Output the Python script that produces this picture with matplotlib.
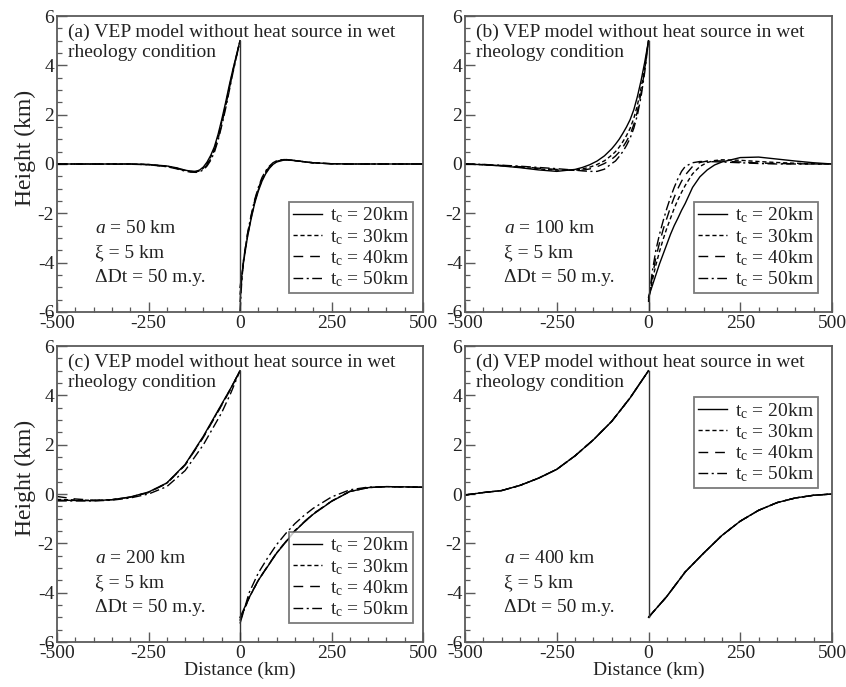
import matplotlib
matplotlib.use("Agg")
import matplotlib.pyplot as plt
from matplotlib.ticker import MultipleLocator

plt.rcParams['font.family'] = ['Liberation Serif', 'DejaVu Serif']
plt.rcParams['mathtext.fontset'] = 'custom'
plt.rcParams['mathtext.rm'] = 'Liberation Serif'
plt.rcParams['mathtext.it'] = 'Liberation Serif:italic'
plt.rcParams['axes.unicode_minus'] = False

# ---- data (distance km, height km) ----
thicknesses = [20, 30, 40, 50]
panel_tags = ['a', 'b', 'c', 'd']
widths = [50, 100, 200, 400]

# (a) a = 50 km
a_xl = [-500, -300, -250, -200, -175, -150, -135, -120, -110, -100, -90, -80, -70, -60, -50, -40, -30, -20, -10, 0]
a_yl = [
    [0, 0, -0.02, -0.08, -0.15, -0.25, -0.29, -0.30, -0.24, -0.12, 0.08, 0.35, 0.70, 1.20, 1.80, 2.45, 3.15, 3.80, 4.40, 5.0],
    [0, 0, -0.02, -0.09, -0.16, -0.26, -0.30, -0.30, -0.27, -0.17, 0.02, 0.28, 0.62, 1.10, 1.70, 2.35, 3.05, 3.75, 4.38, 5.0],
    [0, 0, -0.03, -0.10, -0.17, -0.27, -0.31, -0.31, -0.28, -0.20, -0.03, 0.22, 0.55, 1.02, 1.62, 2.28, 3.00, 3.70, 4.35, 5.0],
    [0, -0.01, -0.03, -0.11, -0.19, -0.29, -0.33, -0.34, -0.31, -0.24, -0.08, 0.15, 0.48, 0.95, 1.55, 2.20, 2.92, 3.65, 4.32, 5.0],
]
a_xr = [0, 5, 10, 20, 30, 40, 50, 60, 70, 80, 90, 100, 120, 140, 170, 200, 250, 300, 500]
a_yr = [
    [-5.0, -4.50, -3.95, -3.00, -2.25, -1.60, -1.10, -0.70, -0.40, -0.18, -0.02, 0.08, 0.16, 0.15, 0.10, 0.05, 0.01, 0, 0],
    [-5.3, -4.55, -3.90, -2.95, -2.20, -1.55, -1.05, -0.65, -0.36, -0.15, 0.00, 0.10, 0.17, 0.15, 0.10, 0.05, 0.01, 0, 0],
    [-5.6, -4.60, -3.85, -2.90, -2.15, -1.50, -1.00, -0.60, -0.32, -0.12, 0.02, 0.11, 0.18, 0.16, 0.10, 0.05, 0.01, 0, 0],
    [-6.0, -4.70, -3.85, -2.85, -2.10, -1.45, -0.95, -0.55, -0.28, -0.09, 0.05, 0.13, 0.19, 0.16, 0.10, 0.04, 0.01, 0, 0],
]

# (b) a = 100 km
b_xl = [-500, -450, -400, -350, -300, -250, -200, -180, -160, -140, -120, -100, -90, -80, -70, -60, -50, -40, -30, -20, -10, 0]
b_yl = [
    [0, -0.03, -0.08, -0.15, -0.24, -0.30, -0.22, -0.14, -0.03, 0.12, 0.33, 0.62, 0.80, 1.00, 1.24, 1.50, 1.80, 2.20, 2.75, 3.40, 4.15, 5.0],
    [0, -0.03, -0.07, -0.13, -0.20, -0.25, -0.25, -0.20, -0.13, -0.02, 0.13, 0.36, 0.50, 0.68, 0.90, 1.15, 1.45, 1.85, 2.40, 3.10, 3.95, 5.0],
    [0, -0.02, -0.06, -0.11, -0.17, -0.22, -0.26, -0.25, -0.20, -0.11, 0.02, 0.20, 0.32, 0.48, 0.68, 0.92, 1.20, 1.60, 2.15, 2.90, 3.85, 5.0],
    [0, -0.02, -0.05, -0.09, -0.14, -0.19, -0.25, -0.28, -0.30, -0.30, -0.21, 0.02, 0.12, 0.30, 0.50, 0.75, 1.05, 1.45, 2.00, 2.75, 3.75, 5.0],
]
b_xr = [0, 10, 20, 30, 40, 50, 60, 70, 80, 90, 100, 120, 140, 160, 180, 200, 250, 300, 350, 400, 450, 500]
b_yr = [
    [-5.40, -4.95, -4.50, -4.05, -3.65, -3.25, -2.85, -2.50, -2.20, -1.88, -1.60, -0.95, -0.52, -0.24, -0.04, 0.08, 0.26, 0.28, 0.20, 0.12, 0.05, 0],
    [-5.50, -4.75, -4.10, -3.55, -3.05, -2.60, -2.20, -1.80, -1.45, -1.15, -0.87, -0.40, -0.10, 0.06, 0.14, 0.17, 0.15, 0.10, 0.06, 0.03, 0.01, 0],
    [-5.55, -4.60, -3.80, -3.20, -2.65, -2.20, -1.75, -1.35, -1.00, -0.70, -0.45, -0.10, 0.06, 0.12, 0.13, 0.12, 0.08, 0.04, 0.02, 0.01, 0, 0],
    [-5.60, -4.40, -3.50, -2.85, -2.30, -1.80, -1.35, -0.95, -0.60, -0.30, -0.10, 0.05, 0.10, 0.10, 0.09, 0.08, 0.05, 0.02, 0.00, 0, 0, 0],
]

# (c) a = 200 km
c_xl = [-500, -450, -400, -350, -300, -250, -200, -150, -100, -50, -25, 0]
c_yl = [
    [-0.25, -0.26, -0.27, -0.23, -0.12, 0.08, 0.45, 1.20, 2.35, 3.65, 4.30, 5.0],
    [-0.22, -0.24, -0.26, -0.23, -0.13, 0.07, 0.44, 1.18, 2.32, 3.62, 4.28, 5.0],
    [-0.10, -0.20, -0.25, -0.23, -0.13, 0.06, 0.43, 1.17, 2.30, 3.60, 4.27, 5.0],
    [-0.28, -0.28, -0.28, -0.25, -0.16, 0.00, 0.30, 0.95, 2.00, 3.30, 4.10, 5.0],
]
c_xr = [0, 25, 50, 75, 100, 125, 150, 175, 200, 250, 300, 350, 400, 450, 500]
c_yr = [
    [-5.00, -4.20, -3.50, -2.95, -2.40, -1.95, -1.50, -1.15, -0.82, -0.30, 0.10, 0.26, 0.30, 0.29, 0.27],
    [-5.10, -4.20, -3.50, -2.94, -2.39, -1.94, -1.49, -1.14, -0.81, -0.29, 0.10, 0.26, 0.30, 0.29, 0.27],
    [-5.15, -4.19, -3.49, -2.93, -2.38, -1.93, -1.48, -1.13, -0.80, -0.29, 0.11, 0.26, 0.30, 0.29, 0.28],
    [-5.25, -4.00, -3.20, -2.60, -2.05, -1.60, -1.20, -0.87, -0.58, -0.12, 0.17, 0.28, 0.30, 0.29, 0.28],
]

# (d) a = 400 km -- all four curves coincide
d_xl = [-500, -450, -400, -350, -300, -250, -200, -150, -100, -50, 0]
d_yl = [[-0.04, 0.06, 0.14, 0.35, 0.64, 1.00, 1.55, 2.20, 2.95, 3.90, 5.0]] * 4
d_xr = [0, 50, 100, 150, 200, 250, 300, 350, 400, 450, 500]
d_yr = [[-5.0, -4.15, -3.16, -2.40, -1.68, -1.10, -0.66, -0.35, -0.16, -0.05, 0.0]] * 4

# vertical offset at the fault (x = 0): top and bottom of the step
fault_top = [5, 5, 5, 5]
fault_bottom = [-6, -6, -6, -5]

panels = [
    (a_xl, a_yl, a_xr, a_yr),
    (b_xl, b_yl, b_xr, b_yr),
    (c_xl, c_yl, c_xr, c_yr),
    (d_xl, d_yl, d_xr, d_yr),
]
# legend anchor (axes fraction, upper/lower right corner)
legend_loc = ['lower right', 'lower right', 'lower right', 'upper right']
legend_anchor = [(0.973, 0.064), (0.962, 0.064), (0.973, 0.064), (0.962, 0.828)]

styles = ['-', (0, (3, 2)), (0, (7, 5)), (0, (7, 2.5, 1.5, 2.5))]
frame_col = '#5a5a5a'
txt_col = '#222222'
fs = 14

fig = plt.figure(figsize=(8.46, 6.87), dpi=100)
boxes = [
    [0.0674, 0.5459, 0.4326, 0.4308],
    [0.5496, 0.5459, 0.4339, 0.4308],
    [0.0674, 0.0655, 0.4326, 0.4308],
    [0.5496, 0.0655, 0.4339, 0.4308],
]

for i, (xl, yls, xr, yrs) in enumerate(panels):
    ax = fig.add_axes(boxes[i])
    for k, tc in enumerate(thicknesses):
        ax.plot(xl, yls[k], color='black', lw=1.0, linestyle=styles[k],
                label=r't$_{\rm c}$ = %dkm' % tc)
        ax.plot(xr, yrs[k], color='black', lw=1.0, linestyle=styles[k])
    ax.plot([0, 0], [fault_top[i], fault_bottom[i]], color='#333333', lw=1.0)

    ax.set_xlim(-500, 500)
    ax.set_ylim(-6, 6)
    ax.xaxis.set_major_locator(MultipleLocator(250))
    ax.xaxis.set_minor_locator(MultipleLocator(50))
    ax.yaxis.set_major_locator(MultipleLocator(2))
    ax.yaxis.set_minor_locator(MultipleLocator(0.5))
    ax.tick_params(which='both', direction='in', colors=frame_col,
                   labelcolor=txt_col, labelsize=14, top=False, right=False)
    ax.tick_params(which='major', length=7, width=1.0, pad=2)
    ax.tick_params(which='minor', length=3.5, width=0.9)
    for sp in ax.spines.values():
        sp.set_color(frame_col)
        sp.set_linewidth(1.3)

    ax.text(0.03, 0.975, '(%s) VEP model without heat source in wet\nrheology condition' % panel_tags[i],
            transform=ax.transAxes, fontsize=fs, va='top', ha='left',
            linespacing=1.25, color=txt_col)
    ax.text(-395, -2.6, '$a$ = %d km' % widths[i], fontsize=fs, va='center', color=txt_col)
    ax.text(-395, -3.6, 'ξ = 5 km', fontsize=fs, va='center', color=txt_col)
    ax.text(-395, -4.6, 'ΔDt = 50 m.y.', fontsize=fs, va='center', color=txt_col)

    leg = ax.legend(loc=legend_loc[i], bbox_to_anchor=legend_anchor[i], fontsize=fs,
                    frameon=True, fancybox=False, handlelength=1.5, handletextpad=0.4,
                    labelspacing=0.08, borderpad=0.2, borderaxespad=0.0)
    leg.get_frame().set_edgecolor(frame_col)
    leg.get_frame().set_linewidth(1.3)
    for t in leg.get_texts():
        t.set_color(txt_col)

    if i % 2 == 0:
        ax.set_ylabel('Height (km)', fontsize=17, labelpad=1, color=txt_col, y=0.554)
    if i >= 2:
        ax.set_xlabel('Distance (km)', fontsize=fs, labelpad=0, color=txt_col)

fig.savefig('out.png', dpi=100)
